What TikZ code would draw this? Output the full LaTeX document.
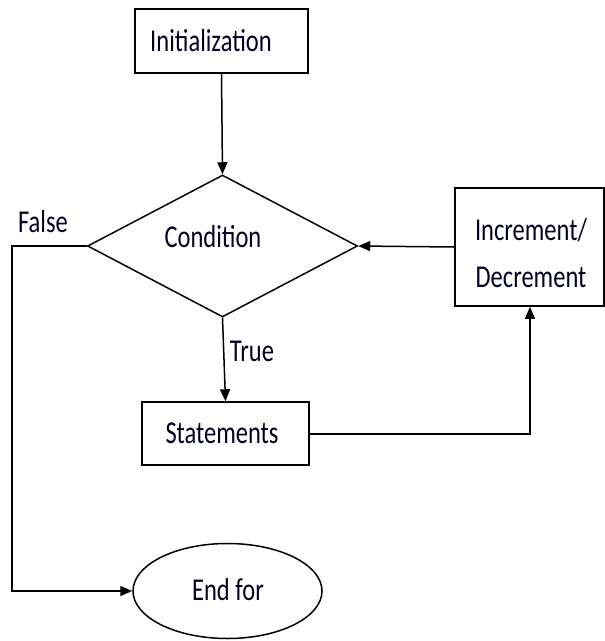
\documentclass[tikz,border=0pt]{standalone}
\usepackage{fontspec}
\setmainfont{Carlito}
\usetikzlibrary{shapes.geometric,arrows.meta}
\newcommand\vst[1]{\scalebox{1}[1.3]{#1}}
\begin{document}
\begin{tikzpicture}[x=1pt,y=-1pt, line width=1.5pt,
  box/.style={draw, rectangle, inner sep=0pt},
  lbl/.style={font=\fontsize{24.5}{29}\selectfont, inner sep=0pt, text=black!85!blue},
  arr/.style={-{Triangle[length=12pt,width=10pt]}}]
\useasboundingbox[fill=white] (0,0) rectangle (605,641);
% shapes
\node[box, minimum width=173, minimum height=64] (init) at (221.5,41) {};
\node[draw, diamond, inner sep=0pt, minimum width=270, minimum height=142] (cond) at (222.5,246) {};
\node[box, minimum width=149, minimum height=118] (inc) at (529.5,247) {};
\node[box, minimum width=167, minimum height=63] (stat) at (225.5,433.5) {};
\node[draw, ellipse, inner sep=0pt, minimum width=189, minimum height=95] (end) at (227.5,591) {};
% texts
\node[lbl] (tinit) at (211,41) {\vst{Initialization}};
\node[lbl] (tcond) at (213,237) {\vst{Condition}};
\node[lbl] (tinc1) at (531,230) {\vst{Increment/}};
\node[lbl] (tinc2) at (531,277) {\vst{Decrement}};
\node[lbl] (tstat) at (222,433) {\vst{Statements}};
\node[lbl] (tend) at (228,590) {\vst{End for}};
\node[lbl] (tfalse) at (43,222) {\vst{False}};
\node[lbl] (ttrue) at (252,351) {\vst{True}};
% connectors
\coordinate (fl) at (12,246);
\coordinate (fb) at (12,591);
\coordinate (sr) at (530,434);
\draw[arr] (init.south) -- (cond.north);
\draw[arr] (inc.west) -- (cond.east);
\draw[arr] (cond.south) -- (stat.north);
\draw[arr] (stat.east |- sr) -- (sr) -- (inc.south -| sr);
\draw[arr] (cond.west) -- (fl) -- (fb) -- (end.west);
\end{tikzpicture}
\end{document}
